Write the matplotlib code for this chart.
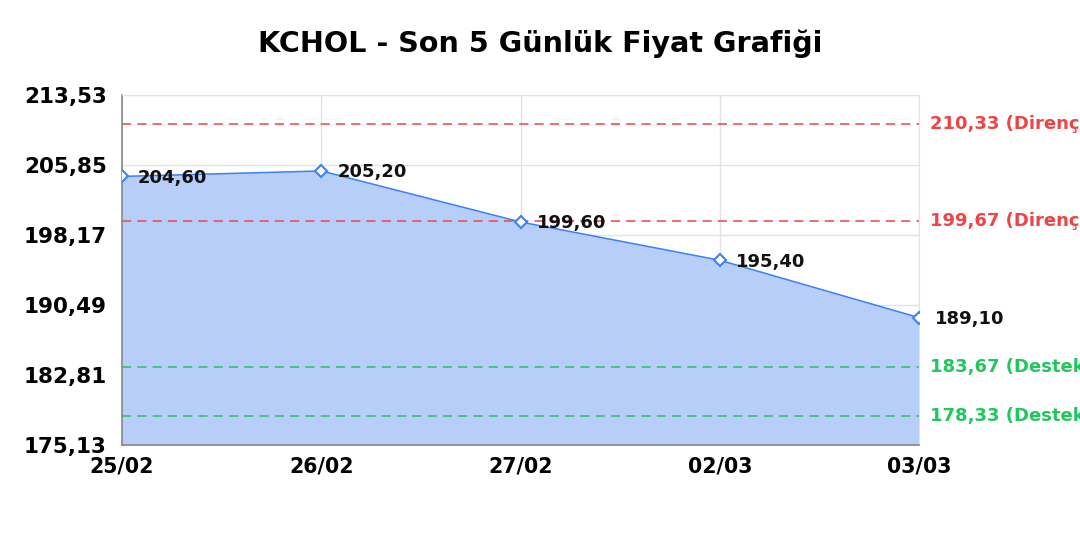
import matplotlib
matplotlib.use("Agg")
import matplotlib.pyplot as plt
from matplotlib.ticker import FixedLocator

plt.rcParams["font.family"] = ["DejaVu Sans"]

# Price data
dates = ["25/02", "26/02", "27/02", "02/03", "03/03"]
prices = [204.60, 205.20, 199.60, 195.40, 189.10]

# Resistance / support levels
resistance = [210.33, 199.67]
support = [183.67, 178.33]

y_ticks = [175.13, 182.81, 190.49, 198.17, 205.85, 213.53]


def fmt(v):
    return f"{v:.2f}".replace(".", ",")


fig = plt.figure(figsize=(10.8, 5.4), dpi=100)
ax = fig.add_axes([0.113, 0.176, 0.738, 0.648])

x = list(range(len(dates)))

ax.fill_between(x, prices, y_ticks[0], color="#b7cff8", zorder=1)
ax.plot(x, prices, color="#3b82f6", linewidth=1.1, zorder=3,
        marker="D", markersize=6, markerfacecolor="white",
        markeredgecolor="#3b82f6", markeredgewidth=1.5)

for xi, p in zip(x, prices):
    ax.annotate(fmt(p), (xi, p), xytext=(11.5, -1), textcoords="offset points",
                ha="left", va="center", fontsize=13, fontweight="bold",
                color="#111111", zorder=4)

for lvl in resistance:
    ax.axhline(lvl, color="#ef4444", linestyle=(0, (6, 4)), linewidth=1.1, zorder=2)
    ax.annotate(f"{fmt(lvl)} (Direnç)", (1, lvl), xycoords=("axes fraction", "data"),
                xytext=(8, 0), textcoords="offset points", ha="left", va="center",
                fontsize=13, fontweight="bold", color="#ef4444", annotation_clip=False)

for lvl in support:
    ax.axhline(lvl, color="#22c55e", linestyle=(0, (6, 4)), linewidth=1.1, zorder=2)
    ax.annotate(f"{fmt(lvl)} (Destek)", (1, lvl), xycoords=("axes fraction", "data"),
                xytext=(8, 0), textcoords="offset points", ha="left", va="center",
                fontsize=13, fontweight="bold", color="#22c55e", annotation_clip=False)

ax.set_xlim(0, len(dates) - 1)
ax.set_ylim(y_ticks[0], y_ticks[-1])
ax.yaxis.set_major_locator(FixedLocator(y_ticks))
ax.set_yticklabels([fmt(v) for v in y_ticks])
ax.set_xticks(x)
ax.set_xticklabels(dates)

for lbl in ax.get_yticklabels():
    lbl.set_fontweight("bold")
    lbl.set_fontsize(15.5)
for lbl in ax.get_xticklabels():
    lbl.set_fontweight("bold")
    lbl.set_fontsize(14.8)
ax.tick_params(axis="y", length=0, pad=11)
ax.tick_params(axis="x", length=0, pad=8)

ax.grid(True, color="#e3e3e3", linewidth=1, zorder=0)
ax.set_axisbelow(True)
for side in ["top", "right"]:
    ax.spines[side].set_color("#e3e3e3")
ax.spines["left"].set_color("#888888")
ax.spines["bottom"].set_color("#888888")
ax.spines["left"].set_linewidth(1.2)
ax.spines["bottom"].set_linewidth(1.2)

fig.suptitle("KCHOL - Son 5 Günlük Fiyat Grafiği", x=0.5, y=0.945,
             fontsize=20.6, fontweight="bold")

fig.savefig("out.png", dpi=100)
